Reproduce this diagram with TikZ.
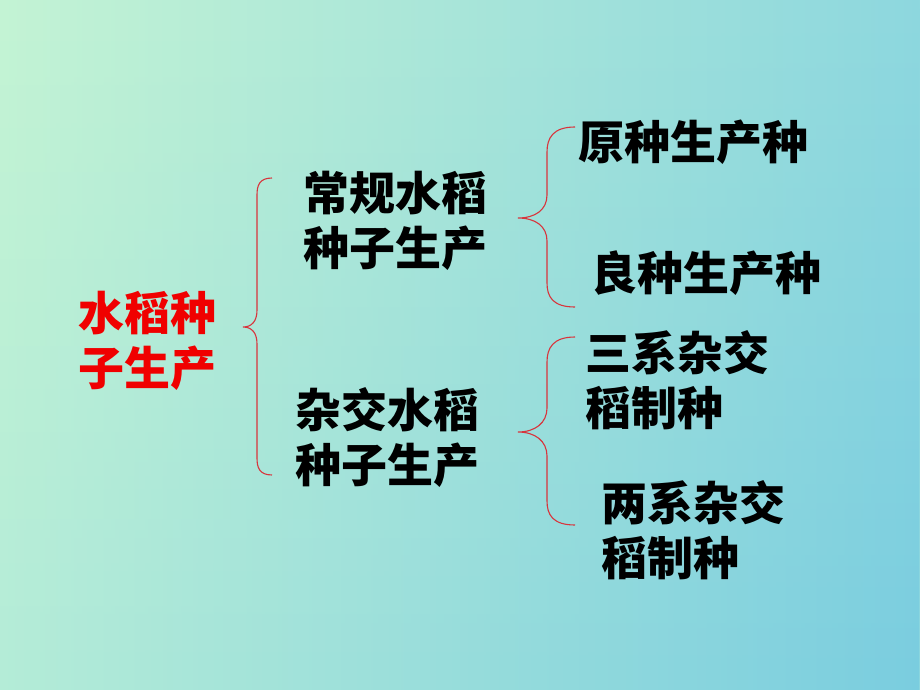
\documentclass[tikz,border=0pt]{standalone}
\usepackage{fontspec}
\newfontfamily\cjk{Noto Sans CJK SC}
\usetikzlibrary{fadings}
\definecolor{bgtl}{HTML}{C4F4D4}
\definecolor{bgtr}{HTML}{8ED8DE}
\definecolor{bgbl}{HTML}{B4ECD8}
\definecolor{bgbr}{HTML}{7ACDE0}
\definecolor{bracered}{HTML}{D8343C}
\definecolor{rootred}{HTML}{F00000}
\tikzfading[name=fadedown, top color=transparent!100, bottom color=transparent!0]
\tikzset{
  lbl/.style={inner sep=0pt, anchor=west, align=left, font=\cjk\bfseries\fontsize{46}{55}\selectfont, text=black},
  rootlbl/.style={lbl, text=rootred},
  bracestyle/.style={draw=bracered, line width=1.1pt}
}
\begin{document}
\begin{tikzpicture}[x=1pt,y=-1pt]
\begin{scope}[y=1pt]
\shade[left color=bgtl, right color=bgtr] (0,0) rectangle (920,-690);
\shade[left color=bgbl, right color=bgbr, path fading=fadedown] (0,0) rectangle (920,-690);
\end{scope}
\useasboundingbox (0,0) rectangle (920,690);
% nodes
\node[rootlbl] (root) at (78,340.5) {水稻种\\子生产};
\node[lbl] (a) at (303,220.5) {常规水稻\\种子生产};
\node[lbl] (b) at (295,437.5) {杂交水稻\\种子生产};
\node[lbl] (a1) at (578,142) {原种生产种};
\node[lbl] (a2) at (591,273) {良种生产种};
\node[lbl] (b1) at (585,380) {三系杂交\\稻制种};
\node[lbl] (b2) at (601,530) {两系杂交\\稻制种};
% braces
\draw[bracestyle] (272,178) .. controls (259,178) and (257,186) .. (257,195) -- (257,310) .. controls (257,321) and (252,327) .. (243,327) .. controls (252,327) and (257,333) .. (257,344) -- (257,458) .. controls (257,467) and (259,475) .. (272,475);
\draw[bracestyle] (575,127) .. controls (553,127) and (547,138) .. (547,152) -- (547,195) .. controls (547,210) and (535,218) .. (518,218) .. controls (535,218) and (547,226) .. (547,241) -- (547,283) .. controls (547,297) and (553,307) .. (575,307);
\draw[bracestyle] (575,337) .. controls (553,337) and (547,348) .. (547,362) -- (547,408) .. controls (547,423) and (535,432) .. (518,432) .. controls (535,432) and (547,441) .. (547,456) -- (547,501) .. controls (547,515) and (553,525) .. (575,525);
\end{tikzpicture}
\end{document}
